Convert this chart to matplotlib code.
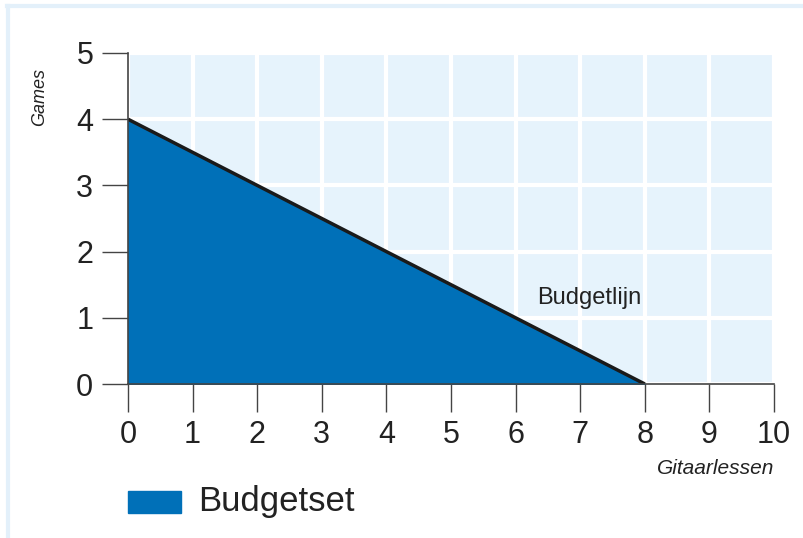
import matplotlib.pyplot as plt
from matplotlib.patches import Rectangle
from matplotlib.lines import Line2D

# budget line: 8 guitar lessons or 4 games
lessons = [0, 8]
games = [4, 0]
x_ticks = list(range(0, 11))
y_ticks = list(range(0, 6))

fill_blue = "#0070b8"
bg_blue = "#e6f3fc"
axis_grey = "#444444"

plt.rcParams["font.family"] = ["Liberation Sans", "DejaVu Sans"]

fig = plt.figure(figsize=(8.04, 5.38), dpi=100)
ax = fig.add_axes([128 / 804, 1 - 384 / 538, 646 / 804, 331 / 538])
ax.set_facecolor(bg_blue)

ax.fill_between(lessons, games, 0, color=fill_blue, zorder=2)
ax.plot(lessons, games, color="#1a1a1a", lw=2.5, zorder=3, solid_capstyle="butt")

ax.set_xlim(0, 10)
ax.set_ylim(0, 5)
ax.set_xticks(x_ticks)
ax.set_yticks(y_ticks)
ax.grid(True, color="white", lw=3, zorder=1)
ax.set_axisbelow(True)

for s in ["top", "right"]:
    ax.spines[s].set_visible(False)
for s in ["left", "bottom"]:
    ax.spines[s].set_color(axis_grey)
    ax.spines[s].set_linewidth(1.2)
    ax.spines[s].set_zorder(4)

ax.tick_params(axis="y", length=19, width=1, color=axis_grey, labelsize=22, pad=6,
               labelcolor="#222222")
ax.tick_params(axis="x", length=20, width=1, color=axis_grey, labelsize=22, pad=6,
               labelcolor="#222222")

ax.text(7.14, 1.3, "Budgetlijn", fontsize=17, color="#222222", ha="center", va="center", zorder=5)
fig.text(40 / 804, 1 - 97 / 538, "Games", rotation=90, style="italic", fontsize=13,
         ha="center", va="center", color="#222222")
fig.text(774 / 804, 1 - 468 / 538, "Gitaarlessen", style="italic", fontsize=15,
         ha="right", va="center", color="#222222")

# legend
fig.patches.append(Rectangle((128 / 804, 1 - 513 / 538), 53 / 804, 22 / 538,
                             transform=fig.transFigure, color=fill_blue))
fig.text(198 / 804, 1 - 501 / 538, "Budgetset", fontsize=25, ha="left", va="center", color="#222222")

# faint frame at top and left
fig.add_artist(Line2D([7 / 804, 1], [1 - 6 / 538, 1 - 6 / 538], transform=fig.transFigure,
                      color="#e3f0fa", lw=3))
fig.add_artist(Line2D([8 / 804, 8 / 804], [0, 1 - 6 / 538], transform=fig.transFigure,
                      color="#e3f0fa", lw=3))

fig.savefig("out.png", dpi=100)
